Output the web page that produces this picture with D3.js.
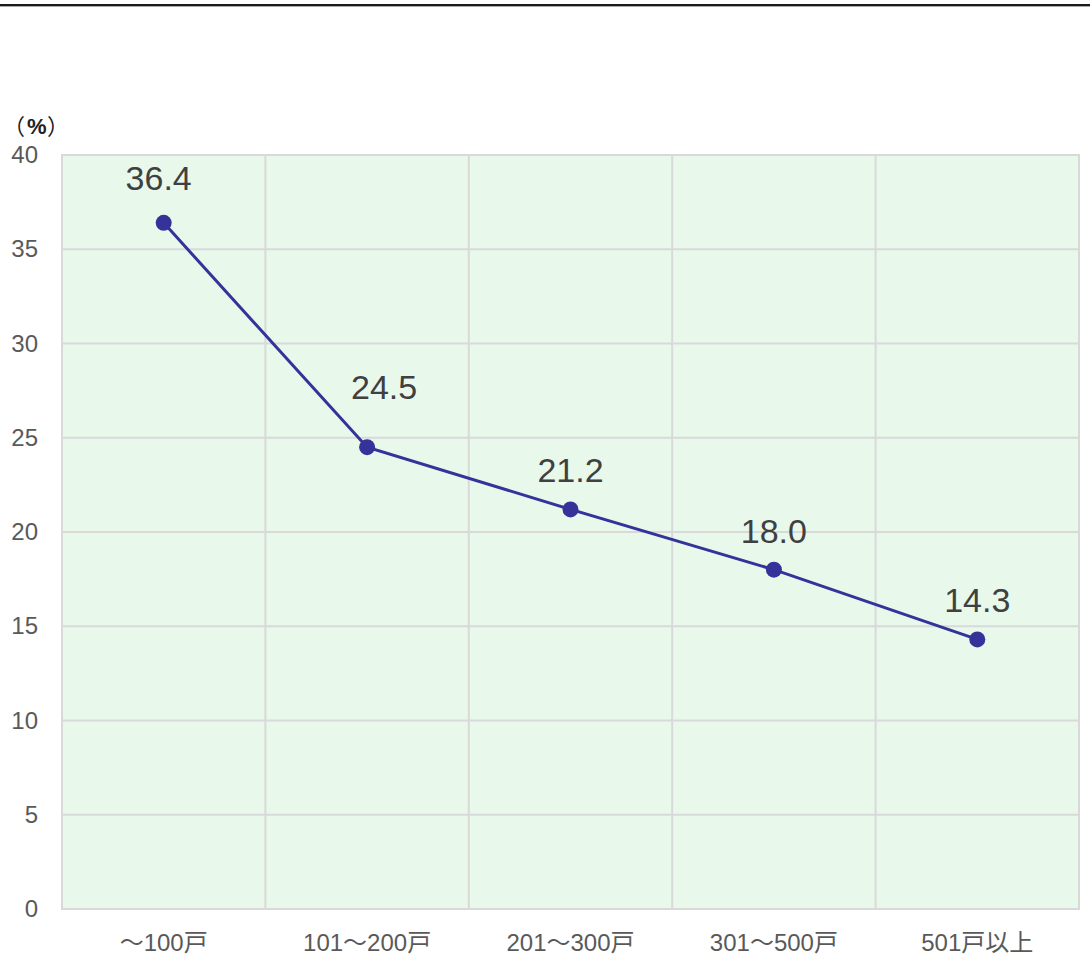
<!DOCTYPE html>
<html><head><meta charset="utf-8">
<script src="https://cdn.jsdelivr.net/npm/d3@7"></script>
<style>body{margin:0;background:#fff;}svg{display:block;}</style>
</head><body>
<svg id="c" width="1090" height="958"></svg>
<script>
const categories = ["～100戸", "101～200戸", "201～300戸", "301～500戸", "501戸以上"];
const values = [36.4, 24.5, 21.2, 18.0, 14.3];
const yTicks = [0, 5, 10, 15, 20, 25, 30, 35, 40];
const unitLabel = ["（", "%", "）"];

const svg = d3.select("#c");
const L = 62, R = 1079, T = 155, B = 909;
const font = "'Liberation Sans', 'Noto Sans CJK JP', Arial, sans-serif";

// top rule
svg.append("line").attr("x1",0).attr("x2",1090).attr("y1",6.5).attr("y2",6.5).attr("stroke","#aaa").attr("stroke-width",1);
svg.append("line").attr("x1",0).attr("x2",1090).attr("y1",5).attr("y2",5).attr("stroke","#1a1a1a").attr("stroke-width",2);

const x = d3.scaleBand().domain(categories).range([L, R]);
const y = d3.scaleLinear().domain([0, 40]).range([B, T]);

svg.append("rect").attr("x",L).attr("y",T).attr("width",R-L).attr("height",B-T).attr("fill","#e8f9ec");

// horizontal grid
svg.append("g").selectAll("line").data(yTicks).join("line")
  .attr("x1",L-1).attr("x2",R+1).attr("y1",d=>y(d)).attr("y2",d=>y(d))
  .attr("stroke","#d9d9d9").attr("stroke-width",2);
// vertical grid
const edges = categories.map(c=>x(c)).concat([R]);
svg.append("g").selectAll("line").data(edges).join("line")
  .attr("x1",d=>d).attr("x2",d=>d).attr("y1",T).attr("y2",B)
  .attr("stroke","#d9d9d9").attr("stroke-width",2);

// y labels
svg.append("g").selectAll("text").data(yTicks).join("text")
  .attr("x",38).attr("y",d=>y(d)+8).attr("text-anchor","end")
  .attr("font-family",font).attr("font-size",24).attr("fill","#595959")
  .text(d=>d);
// unit label
const ux = [3, 27, 47];
svg.append("g").selectAll("text").data(unitLabel).join("text")
  .attr("x",(d,i)=>ux[i]).attr("y",134)
  .attr("font-family",(d,i)=>i===1?"'Liberation Sans', sans-serif":"'Noto Sans CJK JP', sans-serif")
  .attr("font-size",22).attr("font-weight",(d,i)=>i===1?"bold":"normal").attr("fill","#222")
  .text(d=>d);

// x labels
svg.append("g").selectAll("text").data(categories).join("text")
  .attr("x",d=>x(d)+x.bandwidth()/2).attr("y",951).attr("text-anchor","middle")
  .attr("font-family",font).attr("font-size",24).attr("fill","#595959")
  .text(d=>d);

const cx = (d,i)=>x(categories[i])+x.bandwidth()/2;
svg.append("path").datum(values)
  .attr("d", d3.line().x((d,i)=>cx(d,i)).y(d=>y(d)))
  .attr("fill","none").attr("stroke","#333399").attr("stroke-width",3);
svg.append("g").selectAll("circle").data(values).join("circle")
  .attr("cx",cx).attr("cy",d=>y(d)).attr("r",8).attr("fill","#333399");
// data labels (label 2 nudged to clear the line, as in original)
const nudge = (i)=> i===1 ? {dx:17, dy:-48} : (i===0 ? {dx:-5, dy:-33} : {dx:0, dy:-27});
svg.append("g").selectAll("text").data(values).join("text")
  .attr("x",(d,i)=>cx(d,i)+nudge(i).dx).attr("y",(d,i)=>y(d)+nudge(i).dy).attr("text-anchor","middle")
  .attr("font-family",font).attr("font-size",34).attr("fill","#404040")
  .text(d=>d.toFixed(1));
</script>
</body></html>
